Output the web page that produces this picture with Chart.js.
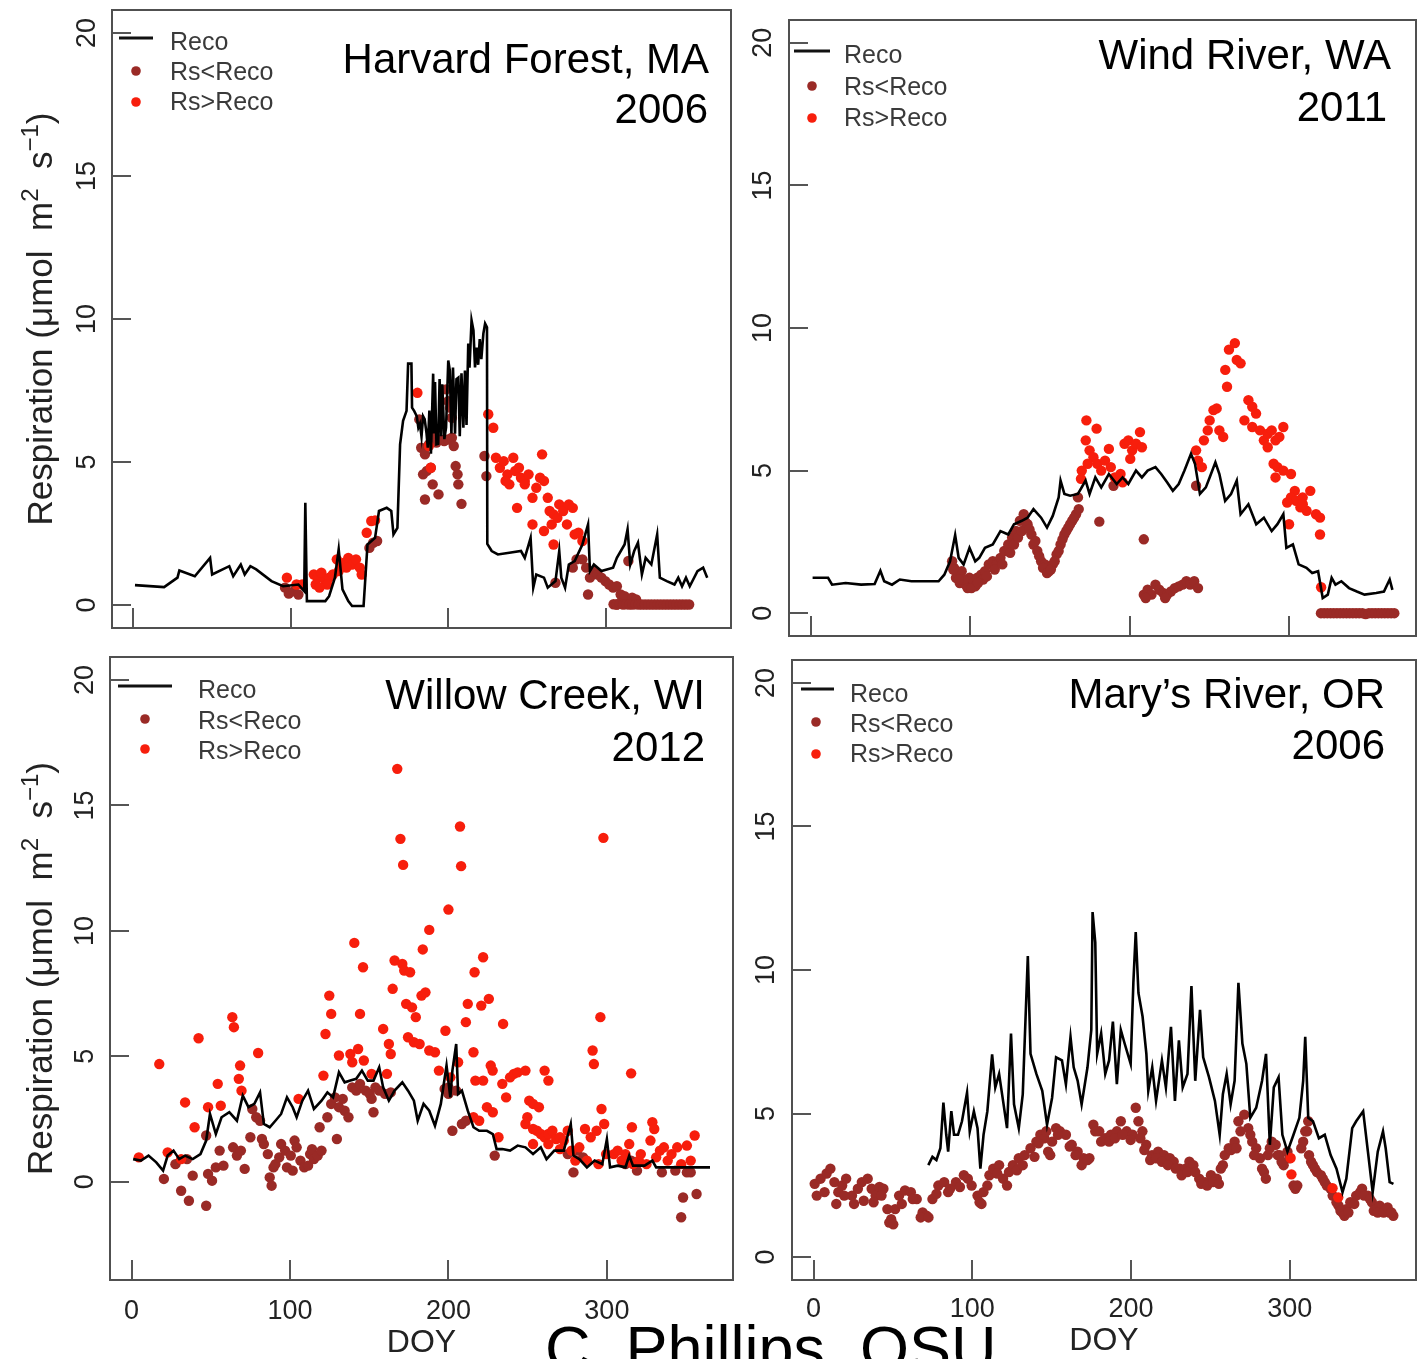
<!DOCTYPE html>
<html>
<head>
<meta charset="utf-8">
<script src="https://cdn.jsdelivr.net/npm/chart.js@4.4.0/dist/chart.umd.min.js"></script>
<style>
  html, body { margin:0; padding:0; background:#fff; }
  body { width:1418px; height:1359px; position:relative; overflow:hidden; }
  canvas { position:absolute; }
  #credit { position:absolute; left:545px; top:1317px; font-family:"Liberation Sans", Arial, sans-serif; font-size:63px; line-height:63px; color:#000; white-space:nowrap; }
</style>
</head>
<body>
<canvas id="c1" width="740" height="640" style="left:0px;top:0px"></canvas>
<canvas id="c2" width="678" height="645" style="left:740px;top:0px"></canvas>
<canvas id="c3" width="745" height="714" style="left:0px;top:645px"></canvas>
<canvas id="c4" width="673" height="714" style="left:745px;top:645px"></canvas>
<div id="credit">C. Phillips, OSU</div>
<script>
// ---------------- DATA ----------------
const xTicks = [0, 100, 200, 300];
const yTicks = [0, 5, 10, 15, 20];
const legendLabels = ['Reco', 'Rs<Reco', 'Rs>Reco'];
const xAxisTitle = 'DOY';
const siteTitles = ['Harvard Forest, MA', 'Wind River, WA', 'Willow Creek, WI', 'Mary\u2019s River, OR'];
const siteYears = ['2006', '2011', '2012', '2006'];

// Harvard Forest [DOY, value]
const harvardReco = [[1,0.70],[19.5,0.63],[28,0.96],[29.2,1.21],[39,1.01],[48.7,1.65],[50,1.07],[60.9,1.36],[63.4,1.01],[68.2,1.42],[70.7,1.07],[74.3,1.36],[78,1.25],[87.7,0.84],[95.1,0.66],[104.8,0.72],[108.5,0.49],[109.2,3.58],[110.2,0.14],[121.9,0.14],[124.3,0.31],[128,0.96],[130.4,1.95],[132.8,0.55],[136.5,0.14],[138.9,-0.03],[146.2,-0.03],[148.7,2.12],[153.5,2.35],[156,3.29],[160.9,3.40],[163.8,3.29],[165.2,2.47],[167.7,2.70],[169.4,5.62],[171.3,6.44],[173.5,6.79],[174.5,8.44],[176.6,8.44],[177,6.9],[178.4,6.78],[180,6.6],[181,6.2],[182,6.34],[183,5.9],[184,6.6],[185,6.5],[186.2,6.0],[187,5.5],[188,6.8],[189,5.29],[190.4,8.09],[191,6.0],[191.6,7.8],[192.5,5.62],[193.6,5.64],[194.5,7.9],[195.5,5.9],[196.2,7.72],[197.5,5.8],[198.6,6.2],[200,8.55],[201,8.2],[202,6.0],[203,8.3],[204.3,5.99],[205.2,7.9],[206.4,7.95],[207.3,5.9],[208.4,8.1],[209.6,6.2],[210.6,8.2],[211.6,6.3],[212.7,9.14],[213.5,8.3],[214.8,9.95],[216,9.6],[217,8.31],[218,9.0],[219,8.4],[220,9.3],[221,8.6],[222.3,9.49],[223.4,9.84],[224.6,9.71],[224.8,2.14],[227.6,1.89],[231.5,1.77],[238.8,1.83],[246.2,1.89],[248.6,1.65],[252.3,2.35],[254,0.61],[255.9,1.07],[260.8,0.96],[263.2,0.61],[268.1,0.84],[270.5,1.89],[271.8,0.96],[274.2,0.61],[276.6,1.42],[280.3,1.54],[285.2,2.12],[288.8,2.82],[290,1.19],[292.5,1.42],[297.3,1.19],[304.7,1.31],[307.1,1.65],[312,2.12],[313.9,2.65],[315.6,1.42],[318.1,1.89],[320.5,2.18],[323,1.07],[325.4,1.65],[329,1.42],[332.7,2.47],[334.4,0.96],[338.8,0.84],[343.7,0.72],[346.1,0.96],[348.5,0.66],[351,0.96],[353.4,0.66],[358.3,1.19],[361.9,1.31],[364.5,0.96]];
const harvardRsLow = [[96.3,0.61],[98.7,0.40],[101.9,0.49],[104.8,0.37],[149.9,2.00],[152.3,2.18],[154.8,2.24],[181.6,6.49],[182.8,5.50],[185.2,5.27],[187.7,5.62],[190.1,5.85],[192.5,5.68],[195,5.79],[197.4,5.73],[199.9,5.79],[202.3,5.85],[203.5,5.56],[198.6,7.54],[199.9,7.13],[201.1,6.90],[202.3,6.55],[184,4.57],[186.4,4.69],[188.9,4.80],[190.1,4.22],[193.8,3.87],[185.2,3.69],[204.7,4.86],[205.9,4.57],[206.4,4.22],[208.4,3.54],[223,5.21],[224.2,4.51],[268.1,0.78],[279.1,1.31],[281.5,1.60],[285.2,1.60],[287.6,1.31],[290,0.96],[288.8,0.37],[292.5,1.19],[294.9,1.07],[297.3,0.96],[299.8,0.84],[302.2,0.72],[304.7,0.61],[307.1,0.66],[309.5,0.37],[312,0.31],[307.1,0.02],[314.4,1.54],[316.8,0.26],[319.3,0.20],[305,0.03],[307,0.02],[309,0.05],[311,0.02],[313,0.03],[315,0.02],[317,0.02],[319,0.03],[321,0.02],[323,0.02],[325,0.02],[327,0.02],[329,0.02],[331,0.02],[333,0.02],[335,0.02],[337,0.02],[339,0.02],[341,0.02],[343,0.02],[345,0.02],[347,0.02],[349,0.02],[351,0.02],[353,0.02]];
const harvardRsHigh = [[97.5,0.96],[103.6,0.72],[107.2,0.72],[114.6,1.07],[117,0.96],[119.4,1.13],[121.9,0.84],[124.3,0.96],[126.7,1.07],[129.2,1.60],[131.6,1.42],[134,1.48],[136.5,1.65],[138.9,1.42],[141.4,1.60],[143.8,1.31],[145,1.07],[123.1,0.72],[115.8,0.72],[118.2,0.61],[130.4,1.19],[135.3,1.31],[148.2,2.53],[151.1,2.94],[153.5,2.96],[180.4,7.42],[187.7,5.56],[188.9,4.80],[225.4,6.67],[228.6,6.20],[230.3,5.15],[232.8,4.80],[235.2,5.03],[237.6,4.57],[238.8,4.22],[241.3,5.15],[242.5,4.69],[244.9,4.80],[246.2,4.45],[248.6,4.34],[251,4.57],[253.5,3.75],[255.9,4.10],[258.3,4.45],[259.6,5.27],[260.8,4.34],[263.2,3.75],[264.4,3.29],[265.7,2.82],[266.9,3.17],[269.3,3.05],[270.5,3.52],[273,3.29],[275.4,2.82],[276.6,3.52],[279.1,3.40],[280.3,2.47],[282.7,2.53],[285.2,2.24],[243.7,3.40],[253.5,2.82],[260.8,2.59],[266.9,2.12],[248.6,4.22],[236.4,4.34]];

// Wind River
const windReco = [[1.2,1.24],[10.9,1.24],[13.4,1.00],[21.9,1.06],[31.6,1.00],[40.1,1.02],[43.7,1.49],[46.1,1.12],[51,1.00],[55.9,1.18],[63.2,1.12],[80.2,1.12],[83.8,1.35],[87.4,1.82],[90.6,2.74],[92.8,1.94],[95.9,1.71],[99.6,2.29],[103.2,1.82],[105.7,1.94],[109.3,2.29],[114.2,2.41],[119,2.88],[123.9,2.76],[127.5,3.12],[132.4,3.24],[136,3.35],[139.7,3.65],[144.5,3.35],[148.2,3.00],[151.8,3.41],[155.5,4.06],[156.7,4.65],[159.1,4.18],[162.7,4.12],[167.6,4.18],[172.4,4.65],[174.9,4.18],[178.5,4.76],[182.2,4.41],[187,4.88],[191.9,4.53],[195.6,4.76],[199.2,4.53],[204,5.00],[207.7,4.76],[211.3,5.00],[216.2,5.12],[219.8,4.88],[223.5,4.59],[227.1,4.29],[230.8,4.53],[234.4,5.00],[238.5,5.59],[241,5.24],[244.1,4.18],[247.8,4.41],[250.2,4.76],[253.8,5.29],[256.3,4.88],[259.9,3.94],[263.6,4.18],[267.2,4.65],[269.6,3.47],[274.5,3.82],[279.4,3.12],[284.2,3.35],[289.1,2.88],[292.7,3.12],[296.4,3.47],[298.3,2.29],[302.4,2.41],[306,1.71],[310.9,1.59],[314.5,1.41],[318.2,1.47],[321.1,0.53],[324.3,0.65],[326.7,1.24],[329.1,1.00],[332.8,1.12],[337.6,0.88],[342.5,0.76],[347.3,0.65],[354.6,0.71],[359.5,0.76],[363.1,1.18],[364.8,0.82]];
const windRsLow = [[88.7,1.82],[89.9,1.59],[92.3,1.35],[94.7,1.47],[97.2,1.00],[99.6,1.24],[102,1.06],[104.4,1.24],[106.9,1.35],[109.3,1.47],[111.7,1.71],[114.2,1.82],[116.6,1.71],[119,1.94],[121.4,2.18],[123.9,2.41],[126.3,2.65],[128.7,2.88],[131.2,3.24],[133.6,3.47],[136,3.12],[138.4,2.76],[139.7,2.41],[142.1,2.18],[144.5,1.82],[146.9,1.71],[149.4,1.47],[151.8,1.71],[154.2,2.06],[156.7,2.41],[159.1,2.76],[161.5,3.00],[164,3.24],[166.4,3.47],[167.6,4.06],[181,3.21],[189.9,4.47],[208.9,2.59],[241.7,4.47],[91.1,1.24],[93.5,1.06],[95.9,1.18],[98.4,0.88],[103.2,0.94],[108.1,1.18],[208.9,0.65],[211.3,0.82],[213.7,0.65],[216.2,1.00],[218.6,0.82],[221,0.71],[223.5,0.65],[225.9,0.76],[228.3,0.88],[230.8,0.94],[233.2,1.00],[235.6,1.12],[238,1.00],[240.5,1.12],[242.9,0.88],[210.1,0.53],[222.3,0.53],[89.4,1.53],[92.8,1.18],[100.8,0.88],[104.9,1.06],[110.5,1.29],[115.4,1.53],[120.2,1.71],[125.1,2.12],[127.5,2.41],[130,2.65],[132.4,2.88],[134.8,3.18],[137.2,2.94],[140.9,2.53],[143.3,2.00],[145.7,1.59],[148.2,1.41],[150.6,1.53],[153,1.82],[155.5,2.18],[157.9,2.59],[160.3,2.88],[162.7,3.12],[165.2,3.35],[168.1,3.65],[320,0],[322,0],[324,0],[326,0],[328,0],[330,0],[332,0],[334,0],[336,0],[338,0],[340,0],[342,0],[344,0],[346,0],[348,-0.03],[350,0],[352,0],[354,0],[356,0],[358,0],[360,0],[362,0],[364,0],[366,0]];
const windRsHigh = [[172.9,6.76],[179.3,6.47],[172.5,6.06],[174.9,5.71],[177.3,5.47],[173.7,5.24],[170,5.00],[169.5,4.71],[179.7,5.24],[182.2,5.00],[184.6,5.35],[187,5.76],[188.2,5.12],[190.7,4.76],[194.3,4.88],[196.8,5.94],[199.2,6.06],[201.6,5.71],[204,5.94],[206.5,6.35],[207.7,5.82],[200.4,5.41],[195.6,4.59],[241.7,5.71],[242.9,5.35],[245.3,5.12],[246.6,6.06],[249,6.41],[250.2,6.76],[252.6,7.12],[254.6,7.18],[256.3,6.41],[258.7,6.18],[260,8.53],[262.3,9.24],[266,9.47],[267.2,8.88],[269.6,8.76],[261.1,7.94],[274.5,7.47],[276.9,7.24],[279.3,7.00],[272,6.76],[276.9,6.53],[281.8,6.41],[284.2,6.06],[286.6,6.29],[289.1,6.41],[291.5,6.06],[293.9,6.18],[296.4,6.53],[286.6,5.82],[290.3,5.24],[292.7,5.12],[296.4,5.00],[301.2,4.88],[291.5,4.76],[303.6,4.29],[301.2,4.06],[304.4,3.94],[308.5,4.06],[313.3,4.29],[298.8,3.88],[307.1,3.71],[311,3.59],[316.9,3.47],[319.4,3.35],[300,3.12],[308.6,3.82],[319.4,2.76],[320.1,0.91]];

// Willow Creek
const willowReco = [[1,0.90],[5.9,0.84],[10.7,1.04],[15.6,0.77],[19.9,0.44],[22.8,1.04],[26.5,1.24],[30.1,0.90],[33.8,1.04],[38.6,0.90],[43.5,1.10],[47.1,1.64],[49.5,2.70],[53.2,1.90],[56.8,2.57],[61.7,2.77],[66.5,2.43],[70.2,3.43],[73.8,2.97],[77.5,3.10],[81.1,3.56],[83.5,2.30],[87.2,2.17],[90.8,2.43],[94.4,2.70],[98.1,3.36],[101.7,2.97],[104.2,2.57],[107.8,3.23],[111.4,3.63],[115.1,2.90],[119.9,3.23],[123.6,3.56],[127.2,3.36],[130.9,4.36],[134.5,3.96],[138.1,4.03],[141.8,4.10],[145.4,4.43],[149.1,4.03],[152.7,4.03],[156.3,4.56],[158.8,3.76],[162.4,3.23],[166,3.63],[170.9,3.96],[174.5,3.63],[178.2,3.23],[180.6,2.43],[184.3,3.10],[187.9,2.83],[191.5,2.23],[195.2,3.10],[198.8,4.63],[201.2,3.36],[202.5,4.43],[204.9,5.49],[206.1,3.50],[208.5,3.63],[212.2,2.83],[215.8,2.17],[219.4,2.03],[224.3,2.03],[228,1.90],[230.4,1.30],[234,1.30],[238.9,1.24],[243.7,1.44],[248.6,1.37],[253.4,1.10],[258.3,1.37],[261.9,0.90],[266.8,1.24],[272.8,1.24],[277.2,2.30],[278.9,1.04],[282.6,0.90],[287.4,0.57],[292.3,0.84],[297.1,0.70],[300,1.70],[302,0.57],[306.8,0.64],[311.7,0.57],[314.1,1.04],[316.5,0.64],[323.8,0.64],[328.7,0.84],[331.1,0.57],[365.1,0.57]];
const willowRsLow = [[20.4,0.11],[27.7,0.70],[31.3,-0.36],[36.2,-0.76],[35,0.90],[38.6,0.24],[47.1,-0.96],[47.1,1.84],[48.3,0.31],[50.8,0.04],[53.2,0.57],[55.6,1.24],[58,0.64],[64.1,1.37],[66.5,1.04],[69,1.24],[71.4,0.51],[75,1.77],[76.2,2.90],[78.7,2.57],[81.1,2.43],[82.3,1.70],[83.5,1.50],[86,1.10],[87.2,0.17],[88.4,-0.16],[89.6,0.57],[90.8,0.70],[93.2,0.97],[94.4,1.50],[96.9,1.24],[98.1,0.57],[100.5,1.04],[101.7,0.44],[102.9,1.64],[104.2,1.37],[106.6,0.84],[109,0.57],[111.4,0.64],[112.7,1.10],[113.9,1.30],[115.1,0.90],[117.5,1.04],[119.9,1.24],[118.7,2.17],[123.6,2.57],[126,3.10],[128.4,3.36],[129.6,1.70],[130.9,2.97],[133.3,3.30],[134.5,2.83],[136.9,2.57],[139.3,3.76],[141.8,3.63],[144.2,3.90],[147.8,3.63],[150.3,3.50],[151.5,3.30],[152.7,2.77],[153.9,3.76],[156.3,3.63],[160,3.50],[163.6,3.56],[200,3.50],[202.5,2.03],[204.9,3.63],[208.5,2.30],[211,2.43],[200,3.76],[197.6,3.70],[229.2,1.04],[275.3,1.10],[278.9,0.37],[281.3,1.24],[285,0.97],[311.7,0.70],[315.3,0.84],[319,0.44],[334.7,0.37],[343.2,0.44],[350.5,0.37],[352.9,0.37],[348.1,-0.63],[346.9,-1.42],[356.6,-0.49]];
const willowRsHigh = [[4.6,0.97],[17.5,4.69],[22.8,1.17],[31.3,0.90],[33.8,3.16],[39.8,2.17],[42.3,5.72],[48.3,2.97],[54.4,3.90],[56.3,3.03],[63.6,6.56],[64.6,6.16],[68.5,4.63],[67.7,4.10],[69.4,3.63],[79.9,5.13],[105.4,3.30],[121.1,4.23],[122.4,5.89],[124.8,7.42],[126,6.69],[130.9,5.03],[138.1,5.09],[139.3,4.76],[140.6,9.52],[143,5.29],[144.2,6.69],[146.1,8.55],[146.6,4.83],[151.5,4.30],[158.8,6.09],[161.2,4.30],[162.4,5.49],[163.6,5.09],[164.8,7.69],[166,8.82],[167.7,16.46],[169.7,13.67],[170.9,8.68],[171.4,12.63],[172.1,8.42],[173.3,7.09],[174.5,5.76],[175.8,8.35],[177,6.95],[178.2,5.56],[179.4,6.56],[181.8,5.49],[183,7.42],[183.8,9.26],[185.5,7.55],[187.9,10.04],[187.9,5.23],[191.5,5.16],[194,4.43],[198.1,6.02],[200,10.85],[201.2,4.16],[206.1,4.76],[207.3,14.16],[208,12.58],[211,6.36],[212.2,7.09],[215.8,5.16],[216.5,8.35],[220.7,7.02],[221.9,8.95],[225.5,7.29],[217,4.03],[221.9,4.03],[226.7,4.63],[227.9,4.43],[234.5,6.29],[231.6,1.77],[234,3.90],[236.4,3.36],[238.9,4.16],[241.3,4.30],[243.7,4.36],[248.6,4.43],[251,3.23],[253.4,3.10],[257.1,2.97],[260.7,4.43],[263.1,4.03],[215.8,2.57],[219.4,2.43],[224.3,2.97],[228,2.77],[248.6,2.30],[249.8,2.57],[253.4,2.10],[255.9,2.03],[258.3,1.90],[260.7,1.77],[263.1,1.90],[265.6,2.03],[268,1.70],[270.4,1.77],[272.8,1.64],[275.3,2.03],[277.7,1.24],[282.6,1.37],[286.2,2.10],[287.4,0.84],[289.8,1.77],[291,5.23],[291.8,4.69],[293.5,2.03],[295.9,6.56],[296.6,2.90],[298.3,2.30],[297.8,13.71],[299.5,1.10],[304.4,1.10],[306.8,1.24],[309.3,0.84],[311.7,1.10],[314.1,1.50],[315.3,4.32],[315.8,2.17],[316.5,0.70],[320.2,0.84],[321.4,1.10],[325,0.70],[327.5,1.64],[328.7,2.37],[329.9,2.10],[331.1,0.97],[333.5,1.24],[336,1.37],[338.4,0.84],[340.8,1.10],[344.4,1.37],[346.9,0.70],[350.5,1.44],[352.9,0.84],[355.4,1.84],[253.4,1.50],[263.1,1.50],[270.4,1.30],[280.1,0.84],[294.7,0.70]];

// Mary's River
const marysReco = [[72.3,3.20],[74.9,3.49],[77.4,3.38],[79.9,3.79],[81.8,5.38],[83.6,4.26],[84.8,3.67],[86.8,5.08],[88.5,4.26],[91,4.26],[93.5,4.73],[96.7,5.73],[98.4,4.38],[101,5.08],[103.3,4.49],[105.1,3.08],[107.1,4.26],[109.5,5.08],[112.5,7.06],[114.5,5.91],[116.9,6.38],[119.4,5.44],[121.9,4.49],[124.4,7.79],[126.3,5.32],[129.3,4.49],[131.8,5.67],[135,10.49],[136.7,7.08],[140.4,6.38],[144.1,5.79],[147.1,4.61],[150.3,5.55],[152.8,6.96],[156.5,6.85],[159,6.02],[161.9,7.67],[163.9,6.61],[166.4,6.14],[168.9,5.32],[172.6,6.61],[175,7.91],[175.8,12.02],[177.5,10.96],[178.7,7.08],[181.2,7.79],[183.8,6.38],[186.2,6.85],[188.6,8.20],[191.1,6.02],[193.6,7.91],[196,7.44],[199.8,6.73],[201.5,9.55],[203,11.32],[204.7,9.20],[207.3,8.38],[209.7,7.08],[210.9,5.79],[213.4,6.61],[215.8,5.44],[219.5,6.85],[222,5.91],[225.2,8.02],[227.7,5.44],[230.2,7.55],[232.6,5.91],[235.6,6.38],[238.1,9.44],[240.5,6.14],[243.5,8.61],[245.5,6.96],[249.2,6.26],[252.9,5.44],[255.9,4.26],[257.9,5.67],[260.3,6.38],[262.8,5.32],[265.3,6.14],[267.7,9.55],[270.2,7.44],[272.7,6.73],[275.2,4.85],[278.9,5.20],[282.6,6.14],[285.1,7.08],[287.5,3.91],[290,5.91],[293,6.26],[295.4,4.26],[298.6,3.67],[302.4,4.26],[306.1,4.85],[308.5,6.14],[309.8,7.67],[311.7,4.85],[314.7,4.73],[318.4,4.14],[322.1,4.26],[325.8,3.55],[329.5,3.08],[333.3,2.26],[335.7,2.73],[339.4,4.49],[341.9,4.73],[346.3,5.08],[349.3,3.67],[352.3,2.26],[355.5,3.67],[358.8,4.38],[360.5,3.79],[363,2.61],[365.4,2.55]];
const marysRsLow = [[0.7,2.55],[4.4,2.73],[8.2,2.91],[10.6,3.08],[13.1,2.61],[15.6,2.26],[18,2.49],[20.5,2.73],[24.2,2.14],[27.9,2.38],[30.4,2.61],[34.1,2.73],[36.6,2.38],[39.1,2.14],[41.5,2.44],[44,2.38],[46.5,1.67],[48.9,1.32],[51.4,1.67],[53.9,2.14],[57.6,2.32],[61.3,2.26],[65,2.02],[68.7,1.55],[71.2,1.44],[74.9,2.02],[78.6,2.49],[82.3,2.61],[86,2.38],[89.7,2.61],[94.7,2.85],[99.6,2.49],[103.3,2.14],[104.6,1.91],[107,2.26],[110.8,2.85],[113.2,3.08],[116.9,3.20],[119.4,2.73],[123.1,2.96],[125.6,3.20],[129.3,3.44],[133,3.55],[136.7,3.79],[140.4,4.02],[142.9,4.26],[145.4,4.14],[147.8,3.67],[150.3,4.02],[152.8,4.49],[155.3,4.38],[159,4.26],[162.7,3.91],[166.4,3.67],[170.1,3.44],[173.8,3.44],[176.3,4.61],[180,4.38],[183.7,4.14],[187.4,4.26],[191.1,4.38],[193.6,4.73],[197.3,4.38],[201,4.26],[203,5.20],[204.7,4.73],[207.2,4.38],[209.6,3.91],[213.3,3.55],[217.1,3.67],[220.8,3.55],[224.5,3.44],[226.9,3.32],[230.7,3.08],[234.4,3.08],[236.8,3.32],[239.3,3.20],[243,2.73],[246.7,2.61],[250.4,2.85],[254.1,2.73],[256.6,3.08],[259.1,3.55],[261.6,3.79],[265.3,4.02],[267.7,4.73],[271.4,4.96],[273.9,4.49],[276.4,4.02],[278.9,3.79],[281.3,3.44],[283.8,2.96],[286.3,3.55],[288.7,4.02],[291.2,3.91],[293.7,3.55],[296.2,3.20],[298.6,3.67],[302.4,2.49],[303.6,2.38],[307.3,3.79],[309.8,4.38],[311.7,4.73],[312.2,3.55],[314.7,3.20],[317.2,2.96],[320.9,2.73],[323.4,2.49],[327.1,2.14],[330.8,1.79],[333.3,1.55],[335.7,1.67],[338.2,1.91],[341.9,2.14],[345.6,2.38],[349.3,2.14],[351.8,1.91],[354.2,1.67],[356.7,1.79],[360.4,1.67],[362.8,1.55],[365.3,1.44],
  [2,2.14],[6.9,2.26],[14.3,1.85],[19.3,2.14],[25.5,1.85],[31.6,1.96],[37.8,1.91],[42.8,2.14],[47.7,1.20],[50.2,1.14],[55.6,1.85],[62.5,2.02],[67.5,1.38],[72.4,1.38],[77.4,2.20],[84.8,2.26],[92.2,2.44],[97.2,2.73],[105.8,1.85],[109.5,2.49],[115.7,2.91],[121.9,2.49],[128.1,3.02],[131.8,3.20],[139.2,3.49],[141.7,3.96],[146.6,4.38],[149.1,3.55],[154,4.26],[161.4,3.85],[165.1,3.55],[168.9,3.20],[172.6,3.38],[177.5,4.38],[181.2,4.02],[186.2,4.02],[189.9,4.14],[194.8,4.26],[199.8,4.08],[205.9,4.14],[208.4,3.73],[212.1,3.38],[215.8,3.44],[219.5,3.32],[223.2,3.20],[228.2,3.08],[231.9,2.85],[235.6,2.96],[240.5,2.96],[244.3,2.55],[248,2.49],[251.7,2.61],[255.4,2.55],[257.9,3.20],[263,3.73],[266.5,3.79],[269,4.38],[275.2,4.26],[277.6,3.55],[282.6,3.08],[285,2.73],[287.5,3.79],[292.5,3.55],[294.9,3.32],[299.9,3.44],[304.8,2.49],[308.5,4.02],[311,4.38],[313.5,3.32],[315.9,3.08],[319.7,2.85],[322.1,2.61],[325.8,2.38],[329.5,1.91],[332,1.61],[334.5,1.44],[337,1.55],[340.7,1.85],[344.4,2.26],[346.9,2.14],[350.6,2.02],[353,1.61],[355.5,1.55],[359.2,1.55],[361.7,1.73],[364.1,1.55]];
const marysRsHigh = [[300.6,3.45],[301.1,2.88],[327,2.40],[330.6,2.08]];

// ---------------- STYLE / LAYOUT ----------------
const RED = '#F71E0C';
const BROWN = '#9A2A26';
const FONT = '"Liberation Sans", Arial, Helvetica, sans-serif';

const panels = [
  { id:'c1', ox:0, oy:0, w:740, h:640, box:[112,10,731,628], yMin:-0.8, yMax:20.8,
    reco:harvardReco, low:harvardRsLow, high:harvardRsHigh, title:siteTitles[0], year:siteYears[0],
    titleRight:709, title2Right:708, titleBase:73, yearBase:123, yLabX:95, yTitle:true,
    leg:{lx1:119,lx2:153,ly:38,dx:136,tx:170,rows:[43,73,103],dots:[71,102]}, xLabels:false },
  { id:'c2', ox:740, oy:0, w:678, h:645, box:[789,20,1416,636], yMin:-0.8, yMax:20.8,
    reco:windReco, low:windRsLow, high:windRsHigh, title:siteTitles[1], year:siteYears[1],
    titleRight:1391, title2Right:1387, titleBase:69, yearBase:121, yLabX:771, yTitle:false,
    leg:{lx1:794,lx2:830,ly:51,dx:812,tx:844,rows:[56,88,119],dots:[86,118]}, xLabels:false },
  { id:'c3', ox:0, oy:645, w:745, h:714, box:[110,657,733,1280], yMin:-3.92, yMax:20.92,
    reco:willowReco, low:willowRsLow, high:willowRsHigh, title:siteTitles[2], year:siteYears[2],
    titleRight:705, title2Right:705, titleBase:709, yearBase:761, yLabX:93, yTitle:true,
    leg:{lx1:118,lx2:172,ly:686,dx:145,tx:198,rows:[691,722,752],dots:[719,749]}, xLabels:true, xLabBase:1319, doyBase:1352 },
  { id:'c4', ox:745, oy:645, w:673, h:714, box:[792,660,1416,1280], yMin:-0.8, yMax:20.8,
    reco:marysReco, low:marysRsLow, high:marysRsHigh, title:siteTitles[3], year:siteYears[3],
    titleRight:1385, title2Right:1385, titleBase:708, yearBase:759, yLabX:774, yTitle:false,
    leg:{lx1:801,lx2:834,ly:689,dx:816,tx:850,rows:[695,725,755],dots:[722,754]}, xLabels:true, xLabBase:1317, doyBase:1350 }
];

function toXY(arr) { return arr.map(p => ({ x: p[0], y: p[1] })); }

function drawYTitle(ctx, x, y) {
  const parts = [['Respiration (\u03bcmol  m', 35, 0], ['2', 24, -14], ['  s', 35, 0], ['\u22121', 24, -14], [')', 35, 0]];
  let total = 0;
  parts.forEach(p => { ctx.font = p[1] + 'px ' + FONT; p.push(ctx.measureText(p[0]).width); total += p[3]; });
  ctx.save();
  ctx.translate(x, y);
  ctx.rotate(-Math.PI / 2);
  ctx.textAlign = 'left';
  ctx.textBaseline = 'alphabetic';
  let cx = -total / 2;
  parts.forEach(p => { ctx.font = p[1] + 'px ' + FONT; ctx.fillText(p[0], cx, p[2]); cx += p[3]; });
  ctx.restore();
}

function makeDecor(p) {
  return {
    id: 'panelDecor',
    afterDraw(chart) {
      const ctx = chart.ctx, a = chart.chartArea, xs = chart.scales.x, ys = chart.scales.y;
      const X = v => v - p.ox, Y = v => v - p.oy;
      ctx.save();
      // tick marks (inward)
      ctx.strokeStyle = '#555';
      ctx.lineWidth = 2;
      ctx.beginPath();
      yTicks.forEach(v => { const y = Math.round(ys.getPixelForValue(v)); ctx.moveTo(a.left, y); ctx.lineTo(a.left + 19, y); });
      xTicks.forEach(v => { const x = Math.round(xs.getPixelForValue(v)); ctx.moveTo(x, a.bottom); ctx.lineTo(x, a.bottom - 20); });
      ctx.stroke();
      // box
      ctx.strokeStyle = '#505050';
      ctx.strokeRect(a.left, a.top, a.right - a.left, a.bottom - a.top);
      // y tick labels (rotated)
      ctx.fillStyle = '#222';
      ctx.font = '27px ' + FONT;
      yTicks.forEach(v => {
        ctx.save();
        ctx.translate(X(p.yLabX), ys.getPixelForValue(v));
        ctx.rotate(-Math.PI / 2);
        ctx.textAlign = 'center';
        ctx.textBaseline = 'alphabetic';
        ctx.fillText(String(v), 0, 0);
        ctx.restore();
      });
      // x tick labels and axis title
      if (p.xLabels) {
        ctx.textAlign = 'center';
        ctx.textBaseline = 'alphabetic';
        ctx.font = '27px ' + FONT;
        xTicks.forEach(v => ctx.fillText(String(v), xs.getPixelForValue(v), Y(p.xLabBase)));
        ctx.font = '32px ' + FONT;
        ctx.fillText(xAxisTitle, (a.left + a.right) / 2, Y(p.doyBase));
      }
      // y axis title
      if (p.yTitle) { ctx.fillStyle = '#222'; drawYTitle(ctx, X(52), (a.top + a.bottom) / 2); }
      // legend
      const L = p.leg;
      ctx.strokeStyle = '#111';
      ctx.lineWidth = 3;
      ctx.beginPath(); ctx.moveTo(X(L.lx1), Y(L.ly)); ctx.lineTo(X(L.lx2), Y(L.ly)); ctx.stroke();
      ctx.fillStyle = BROWN; ctx.beginPath(); ctx.arc(X(L.dx), Y(L.dots[0]), 4.8, 0, Math.PI * 2); ctx.fill();
      ctx.fillStyle = RED; ctx.beginPath(); ctx.arc(X(L.dx), Y(L.dots[1]), 4.8, 0, Math.PI * 2); ctx.fill();
      ctx.fillStyle = '#3a3a3a';
      ctx.font = '25px ' + FONT;
      ctx.textAlign = 'left';
      ctx.textBaseline = 'middle';
      legendLabels.forEach((t, i) => ctx.fillText(t, X(L.tx), Y(L.rows[i])));
      // site title
      ctx.fillStyle = '#000';
      ctx.font = '42px ' + FONT;
      ctx.textAlign = 'right';
      ctx.textBaseline = 'alphabetic';
      ctx.fillText(p.title, X(p.titleRight), Y(p.titleBase));
      ctx.fillText(p.year, X(p.title2Right), Y(p.yearBase));
      ctx.restore();
    }
  };
}

panels.forEach(p => {
  const [bl, bt, br, bb] = p.box;
  new Chart(document.getElementById(p.id), {
    type: 'scatter',
    data: {
      datasets: [
        { type: 'line', label: legendLabels[0], data: toXY(p.reco), showLine: true, borderColor: '#000', borderWidth: 2.6,
          borderJoinStyle: 'miter', pointRadius: 0, fill: false, tension: 0, order: 0 },
        { label: legendLabels[2], data: toXY(p.high), backgroundColor: RED, pointRadius: 5.2, borderWidth: 0, order: 1 },
        { label: legendLabels[1], data: toXY(p.low), backgroundColor: BROWN, pointRadius: 5.2, borderWidth: 0, order: 2 }
      ]
    },
    options: {
      responsive: false,
      animation: false,
      devicePixelRatio: 1,
      events: [],
      layout: { autoPadding: false, padding: { left: bl - p.ox, top: bt - p.oy, right: p.ox + p.w - br, bottom: p.oy + p.h - bb } },
      scales: {
        x: { type: 'linear', min: -13.6, max: 379.6, display: false },
        y: { type: 'linear', min: p.yMin, max: p.yMax, display: false }
      },
      plugins: { legend: { display: false }, tooltip: { enabled: false }, title: { display: false } }
    },
    plugins: [makeDecor(p)]
  });
});
</script>
</body>
</html>
